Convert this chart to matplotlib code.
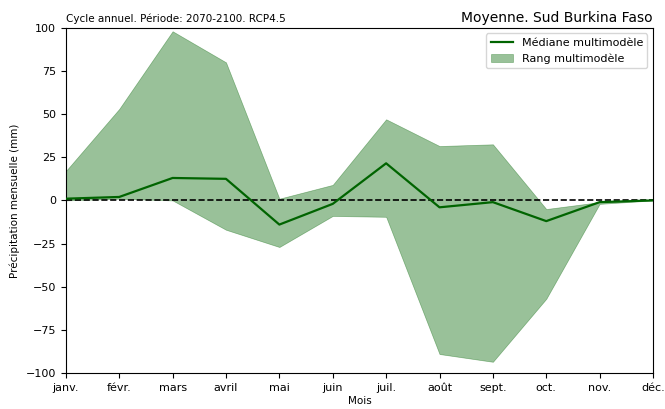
import numpy as np
import matplotlib
matplotlib.use("Agg")
import matplotlib.pyplot as plt

mois = ["janv.", "févr.", "mars", "avril", "mai", "juin", "juil.", "août", "sept.", "oct.", "nov.", "déc."]
mediane = [1, 2, 13, 12.5, -14, -2, 21.5, -4, -1, -12, -1, 0]
haut = [17, 53, 98, 80, 1, 9, 47, 31.5, 32.5, -5, -1, 0]
bas = [0, 1, 0, -17, -27, -9, -9.5, -89, -93.5, -57, -2, 0]

fig = plt.figure(figsize=(6.65, 4.09), dpi=100)
ax = fig.add_axes([0.099, 0.088, 0.883, 0.844])

x = np.arange(len(mois))
ligne, = ax.plot(x, mediane, color="darkgreen", linewidth=1.6, label="Médiane multimodèle", zorder=3)
zone = ax.fill_between(x, bas, haut, color="darkgreen", alpha=0.4, linewidth=0.5, label="Rang multimodèle", zorder=1)
ax.axhline(0, color="black", linestyle="--", linewidth=1.2, zorder=2)

ax.set_xlim(0, 11)
ax.set_ylim(-100, 100)
ax.set_yticks(np.arange(-100, 101, 25))
ax.set_xticks(x)
ax.set_xticklabels(mois)
ax.tick_params(labelsize=8, length=3.5)
ax.set_ylabel("Précipitation mensuelle (mm)", fontsize=7.5)
ax.set_xlabel("Mois", fontsize=7.5, labelpad=2)
ax.set_title("Cycle annuel. Période: 2070-2100. RCP4.5", loc="left", fontsize=7.5, pad=4)
ax.set_title("Moyenne. Sud Burkina Faso", loc="right", fontsize=10, pad=4)

ax.legend(handles=[ligne, zone], loc="upper right", fontsize=8, framealpha=0.8)

fig.savefig("out.png", dpi=100)
